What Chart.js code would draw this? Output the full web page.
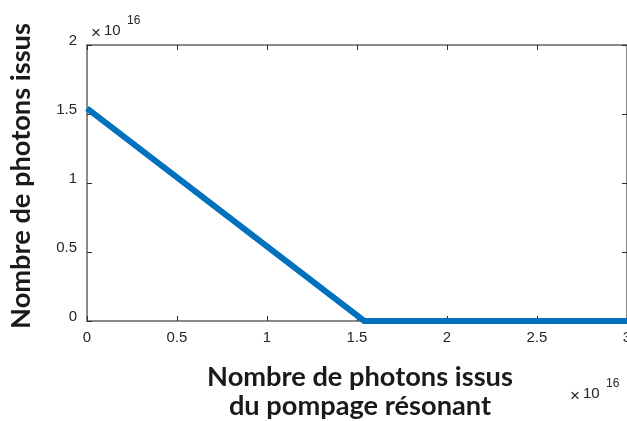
<!DOCTYPE html>
<html>
<head>
<meta charset="utf-8">
<script src="https://cdn.jsdelivr.net/npm/chart.js@4/dist/chart.umd.min.js"></script>
<style>
  html, body { margin: 0; padding: 0; background: #fff; overflow: hidden; }
  #wrap { width: 627px; height: 421px; position: relative; }
</style>
</head>
<body>
<div id="wrap"><canvas id="c" width="627" height="421"></canvas></div>
<script>
// Photon counts, in units of 10^16
const exponent = 16;
const pumpPhotons = [0, 1.54, 3];      // x: photons from resonant pumping
const outPhotons  = [1.54, 0, 0];      // y: resulting photons
const xTicks = [0, 0.5, 1, 1.5, 2, 2.5, 3];
const yTicks = [0, 0.5, 1, 1.5, 2];
const xTitle = ['Nombre de photons issus', 'du pompage résonant'];
const yTitle = 'Nombre de photons issus';

const points = pumpPhotons.map((x, i) => ({ x, y: outPhotons[i] }));

const AXIS_GREY = '#8a8a8a';
const TICK_DARK = '#2b2b2b';
const LABEL = '#262626';
const SANS = '"Liberation Sans", Arial, sans-serif';
const TITLE_FAMILY = 'Lato, "Open Sans", sans-serif';

// Box around the plot with inward tick marks on all four sides
const boxPlugin = {
  id: 'box',
  beforeDatasetsDraw(chart) {
    const { ctx, chartArea: a, scales } = chart;
    ctx.save();
    ctx.lineWidth = 2;
    ctx.strokeStyle = AXIS_GREY;
    ctx.strokeRect(a.left, a.top, a.right - a.left, a.bottom - a.top);
    ctx.lineWidth = 1;
    ctx.strokeStyle = TICK_DARK;
    const len = 5;
    ctx.beginPath();
    xTicks.forEach(v => {
      const px = Math.round(scales.x.getPixelForValue(v)) + 0.5;
      ctx.moveTo(px, a.bottom); ctx.lineTo(px, a.bottom - len);
      ctx.moveTo(px, a.top); ctx.lineTo(px, a.top + len);
    });
    yTicks.forEach(v => {
      const py = Math.round(scales.y.getPixelForValue(v)) + 0.5;
      ctx.moveTo(a.left, py); ctx.lineTo(a.left + len, py);
      ctx.moveTo(a.right, py); ctx.lineTo(a.right - len, py);
    });
    ctx.stroke();
    ctx.restore();
  },
  afterDraw(chart) {
    const { ctx, chartArea: a } = chart;
    ctx.save();
    ctx.fillStyle = LABEL;
    // exponent markers
    const drawExp = (x, y) => {
      ctx.textAlign = 'left';
      ctx.textBaseline = 'alphabetic';
      ctx.font = '17px ' + SANS;
      ctx.fillText('\u00d7', x, y + 3);
      ctx.font = '15px ' + SANS;
      ctx.fillText('10', x + 13, y);
      ctx.font = '12px ' + SANS;
      ctx.fillText(String(exponent), x + 36, y - 11);
    };
    drawExp(a.left + 4, 35);
    drawExp(570, 398);

    // axis titles, sized to a fixed line width
    ctx.font = 'bold 21px ' + TITLE_FAMILY;
    const w = ctx.measureText(xTitle[0]).width;
    const size = 21 * 306 / w;
    ctx.font = 'bold ' + size.toFixed(2) + 'px ' + TITLE_FAMILY;
    ctx.fillStyle = '#1a1a1a';
    ctx.textAlign = 'center';
    ctx.textBaseline = 'alphabetic';
    ctx.fillText(xTitle[0], 360, 386);
    ctx.fillText(xTitle[1], 360, 415);
    ctx.translate(30, 176);
    ctx.rotate(-Math.PI / 2);
    ctx.fillText(yTitle, 0, 0);
    ctx.restore();
  }
};

new Chart(document.getElementById('c'), {
  type: 'scatter',
  data: {
    datasets: [{
      data: points,
      showLine: true,
      borderColor: '#0072BD',
      borderWidth: 6,
      borderCapStyle: 'butt',
      borderJoinStyle: 'miter',
      pointRadius: 0,
      pointHoverRadius: 0,
      tension: 0,
      clip: false
    }]
  },
  options: {
    responsive: false,
    animation: false,
    events: [],
    layout: { padding: { top: 45, left: 0, right: 0, bottom: 0 } },
    plugins: { legend: { display: false }, tooltip: { enabled: false } },
    scales: {
      x: {
        type: 'linear', min: 0, max: 3,
        afterBuildTicks: s => { s.ticks = xTicks.map(v => ({ value: v })); },
        afterFit: s => { s.height = 100; s.paddingLeft = 0; s.paddingRight = 0; },
        grid: { display: false, drawTicks: false },
        border: { display: false },
        ticks: {
          padding: 8, color: LABEL, maxRotation: 0, autoSkip: false,
          font: { family: SANS, size: 15 },
          callback: v => String(v)
        }
      },
      y: {
        type: 'linear', min: 0, max: 2,
        afterBuildTicks: s => { s.ticks = yTicks.map(v => ({ value: v })); },
        afterFit: s => { s.width = 87; s.paddingTop = 0; s.paddingBottom = 0; },
        grid: { display: false, drawTicks: false },
        border: { display: false },
        ticks: {
          padding: 10, color: LABEL, labelOffset: -4, autoSkip: false,
          font: { family: SANS, size: 15 },
          callback: v => String(v)
        }
      }
    }
  },
  plugins: [boxPlugin]
});
</script>
</body>
</html>
